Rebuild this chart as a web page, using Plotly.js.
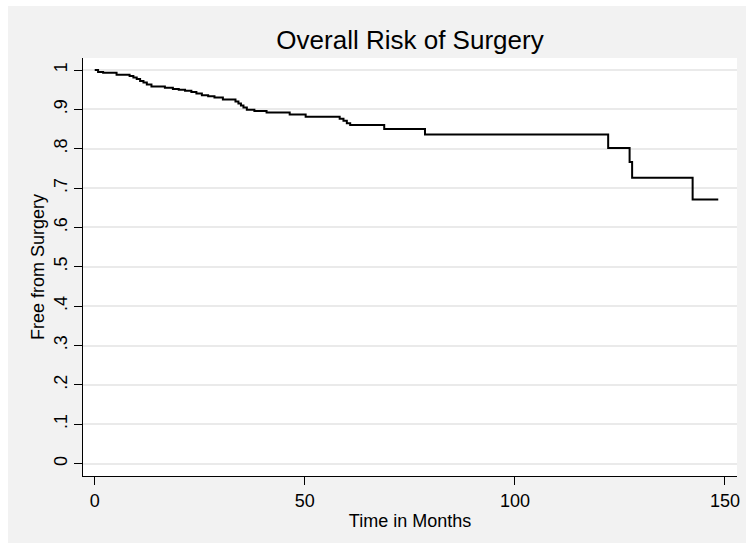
<!DOCTYPE html>
<html>
<head>
<meta charset="utf-8">
<script src="https://cdn.plot.ly/plotly-3.0.1.min.js"></script>
<style>
  html, body { margin: 0; padding: 0; background: #ffffff; width: 746px; height: 549px; overflow: hidden; }
  #chart { position: absolute; left: 8px; top: 6px; width: 738px; height: 537px; }
</style>
</head>
<body>
<div id="chart"></div>
<script>
// Kaplan-Meier estimate
const months = [0, 0.8, 2, 5.2, 8.3, 9.2, 10, 10.8, 11.6, 12.4, 13.5, 16.7, 18.6, 20, 21.5, 23, 24.2, 25.5, 27, 28.5, 30.5, 33.5, 34.2, 34.8, 35.4, 36.2, 38, 40.9, 46.4, 50.2, 58.3, 59.2, 60, 60.8, 68.9, 78.6, 122.2, 127.3, 127.9, 142.3, 148.4];
const freeFromSurgery = [1.0, 0.995, 0.993, 0.988, 0.985, 0.981, 0.977, 0.972, 0.968, 0.963, 0.958, 0.955, 0.952, 0.950, 0.947, 0.944, 0.940, 0.936, 0.933, 0.930, 0.925, 0.920, 0.915, 0.910, 0.905, 0.899, 0.896, 0.892, 0.887, 0.881, 0.876, 0.871, 0.865, 0.860, 0.850, 0.836, 0.802, 0.766, 0.726, 0.671, 0.671];

const yTickVals = [0, 0.1, 0.2, 0.3, 0.4, 0.5, 0.6, 0.7, 0.8, 0.9, 1];
const yTickText = ["0", ".1", ".2", ".3", ".4", ".5", ".6", ".7", ".8", ".9", "1"];
const xTickVals = [0, 50, 100, 150];
const xTickText = ["0", "50", "100", "150"];

const font = "Liberation Sans, Arial, sans-serif";

const trace = {
  x: months,
  y: freeFromSurgery,
  type: "scatter",
  mode: "lines",
  line: { shape: "hv", color: "#000000", width: 2 },
  hoverinfo: "x+y"
};

const layout = {
  width: 738,
  height: 537,
  paper_bgcolor: "#f2f2f2",
  plot_bgcolor: "#ffffff",
  margin: { l: 75, r: 9, t: 52, b: 67 },
  showlegend: false,
  font: { family: font, color: "#000000", size: 18 },
  title: {
    text: "Overall Risk of Surgery",
    font: { family: font, size: 26, color: "#000000" },
    x: 0.5, xref: "paper", xanchor: "center",
    y: 0.937, yref: "container", yanchor: "middle"
  },
  xaxis: {
    range: [-2.79, 152.86],
    tickmode: "array",
    tickvals: xTickVals,
    ticktext: xTickText,
    ticks: "outside",
    ticklen: 8,
    tickwidth: 1,
    tickcolor: "#000000",
    showline: true,
    linecolor: "#000000",
    linewidth: 1,
    showgrid: false,
    zeroline: false,
    tickfont: { size: 18 },
    title: { text: "Time in Months", font: { size: 18 }, standoff: 4 }
  },
  yaxis: {
    range: [-0.0316, 1.0305],
    tickmode: "array",
    tickvals: yTickVals,
    ticktext: yTickText,
    tickangle: -90,
    ticks: "outside",
    ticklen: 8,
    tickwidth: 1,
    tickcolor: "#000000",
    showline: true,
    linecolor: "#000000",
    linewidth: 1,
    showgrid: true,
    gridcolor: "#eaeaea",
    gridwidth: 2,
    zeroline: false,
    tickfont: { size: 18 },
    title: { text: "Free from Surgery", font: { size: 18 }, standoff: 1 }
  }
};

Plotly.newPlot("chart", [trace], layout, { displayModeBar: false, staticPlot: true });
</script>
</body>
</html>
